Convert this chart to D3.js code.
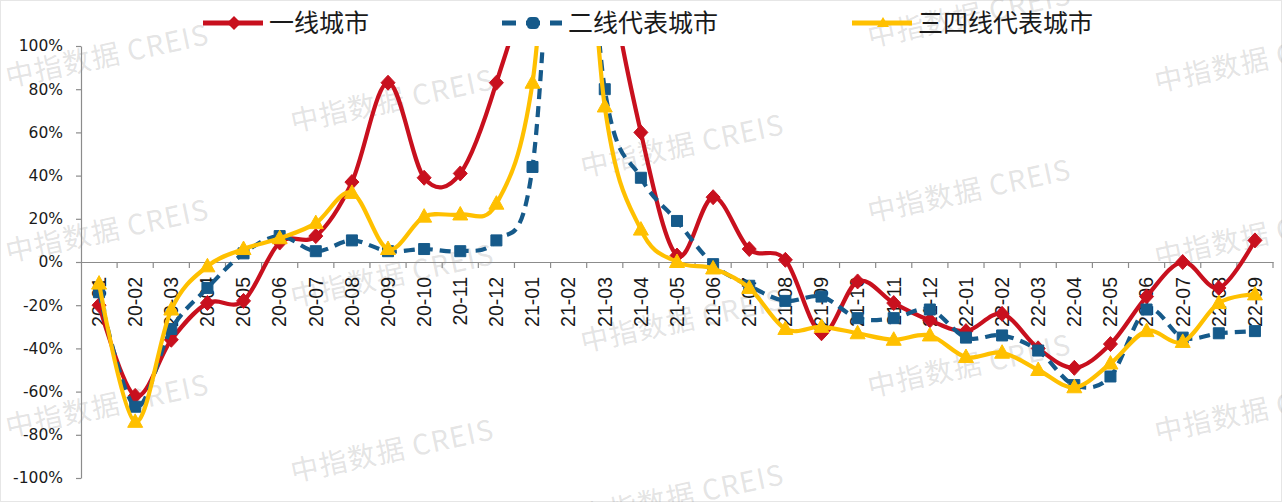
<!DOCTYPE html>
<html><head><meta charset="utf-8">
<script src="https://cdn.jsdelivr.net/npm/d3@7"></script>
<style>html,body{margin:0;padding:0;background:#fff;} svg{display:block;}</style>
</head><body><svg id="c" width="1282" height="502"></svg>
<script>
const categories = ["20-01","20-02","20-03","20-04","20-05","20-06","20-07","20-08","20-09","20-10","20-11","20-12",
  "21-01","21-02","21-03","21-04","21-05","21-06","21-07","21-08","21-09","21-10","21-11","21-12",
  "22-01","22-02","22-03","22-04","22-05","22-06","22-07","22-08","22-09"];
// 一线城市
const tier1 = [-20,-62,-36,-19,-18,9,12,37,83,39,41,83,150,300,150,60,3,30,6,1,-33,-9,-19,-27,-32,-24,-40,-49,-38,-16,0,-12,10];
// 二线代表城市
const tier2 = [-14,-67,-31,-12,4,12,5,10,5,6,5,10,44,250,80,39,19,-1,-11,-18,-16,-26,-26,-22,-35,-34,-41,-57,-53,-22,-35,-33,-32];
// 三四线代表城市
const tier3 = [-10,-74,-22,-2,6,11,18,32,6,21,22,27,83,250,72,15,0,-3,-12,-31,-30,-33,-36,-34,-44,-42,-50,-58,-47,-32,-37,-19,-15];
const yTicks = [-100,-80,-60,-40,-20,0,20,40,60,80,100];
const seriesNames = ["一线城市","二线代表城市","三四线代表城市"];
const watermarkText = "中指数据 CREIS";

const svg = d3.select("#c");
const W = 1282, H = 502;
const L = 81, R = 1273, T = 46, B = 478;

const x = d3.scaleBand().domain(categories).range([L, R]).paddingInner(0).paddingOuter(0);
const bw = x.bandwidth();
const cx = c => x(c) + bw / 2;
const y = d3.scaleLinear().domain([-100, 100]).range([B, T]);

svg.append("rect").attr("x",0.5).attr("y",0.5).attr("width",W-1).attr("height",H-1)
  .attr("fill","#fff").attr("stroke","#e6e6e6");

svg.append("defs").append("clipPath").attr("id","plotclip")
  .append("rect").attr("x", L - 20).attr("y", T).attr("width", R - L + 40).attr("height", B - T);

// watermarks (background tiles)
const wmCols = [8, 293, 583, 870, 1157];
const wmG = svg.append("g").attr("pointer-events", "none");
wmCols.forEach((wx, ci) => {
  const base = 87 + ci * 45;
  for (let k = -2; k <= 3; k++) {
    const wy = base + k * 175;
    if (wy < 20 || wy > H + 40) continue;
    wmG.append("text").attr("x", 0).attr("y", 0)
      .attr("transform", `translate(${wx},${wy}) rotate(-12)`)
      .attr("font-family", "'Noto Sans CJK SC', 'Liberation Sans', sans-serif")
      .attr("font-size", 28).attr("letter-spacing", 1.2)
      .attr("fill", "#8a8a8a").attr("fill-opacity", 0.24)
      .text(watermarkText);
  }
});

// Y axis
const yAxis = svg.append("g").attr("transform", `translate(${L},0)`)
  .call(d3.axisLeft(y).tickValues(yTicks).tickFormat(d => d + "%").tickSize(5).tickSizeOuter(0).tickPadding(13));
yAxis.select(".domain").attr("stroke", "#8c8c8c").attr("stroke-width", 1.2);
yAxis.selectAll(".tick line").attr("stroke", "#8c8c8c").attr("stroke-width", 1.2);
yAxis.selectAll(".tick text").attr("font-family", "'DejaVu Sans', Verdana, sans-serif")
  .attr("font-size", 15.5).attr("fill", "#1a1a1a");

// X axis at 0%
const xAxis = svg.append("g").attr("transform", `translate(0,${y(0)})`)
  .call(d3.axisBottom(x).tickSize(6).tickSizeOuter(0).tickPadding(0));
xAxis.select(".domain").attr("stroke", "#8c8c8c").attr("stroke-width", 1.2);
xAxis.selectAll(".tick line").attr("stroke", "#8c8c8c").attr("stroke-width", 1.2)
  .attr("transform", `translate(${bw/2},0)`);
xAxis.selectAll(".tick text")
  .attr("font-family", "'Liberation Sans', Arial, sans-serif").attr("font-size", 19.5).attr("fill", "#1a1a1a")
  .attr("text-anchor", "end").attr("y", 0).attr("dy", "0.35em")
  .attr("transform", "translate(0,15) rotate(-90)");

// series
const series = [
  {name: seriesNames[0], values: tier1, color: "#C8101E", dash: null, marker: "diamond"},
  {name: seriesNames[1], values: tier2, color: "#165A8A", dash: "11,7", marker: "square"},
  {name: seriesNames[2], values: tier3, color: "#FFC000", dash: null, marker: "triangle"}
];
const markerPath = {
  diamond: "M0,-7.5L7,0L0,7.5L-7,0Z",
  square: "M-5.5,-5.5H5.5V5.5H-5.5Z",
  triangle: "M0,-8L7.5,5.5L-7.5,5.5Z"
};
const line = d3.line().x((d, i) => cx(categories[i])).y(d => y(d)).curve(d3.curveCardinal.tension(0));

const plotG = svg.append("g").attr("clip-path", "url(#plotclip)");
series.forEach(s => {
  plotG.append("path").datum(s.values).attr("d", line)
    .attr("fill", "none").attr("stroke", s.color).attr("stroke-width", 4.2)
    .attr("stroke-dasharray", s.dash).attr("stroke-linejoin", "round");
  plotG.selectAll(null).data(s.values.map((v, i) => ({v, c: categories[i]})).filter(d => d.v <= 100))
    .enter().append("path").attr("d", markerPath[s.marker])
    .attr("transform", d => `translate(${cx(d.c)},${y(d.v)})`)
    .attr("fill", s.color).attr("stroke", s.color).attr("stroke-width", 1);
});

// legend
const legendX = [203, 502, 852];
const lg = svg.append("g");
series.forEach((s, i) => {
  const x0 = legendX[i], ly = 23;
  const g = lg.append("g");
  g.append("line").attr("x1", x0).attr("x2", x0 + 60).attr("y1", ly).attr("y2", ly)
    .attr("stroke", s.color).attr("stroke-width", 5).attr("stroke-dasharray", s.dash ? "14,10" : null);
  if (s.marker === "square") {
    g.append("rect").attr("x", x0 + 25).attr("y", ly - 6).attr("width", 12).attr("height", 12).attr("rx", 4)
      .attr("fill", s.color);
  } else {
    g.append("path").attr("d", s.marker === "diamond" ? "M0,-7L7,0L0,7L-7,0Z" : "M0,-6L6,4L-6,4Z")
      .attr("transform", `translate(${x0 + 31},${ly})`).attr("fill", s.color);
  }
  g.append("text").attr("x", x0 + 66).attr("y", ly).attr("dy", "0.36em")
    .attr("font-family", "'Noto Sans CJK SC', sans-serif").attr("font-size", 25).attr("fill", "#1a1a1a")
    .text(s.name);
});
</script></body></html>
